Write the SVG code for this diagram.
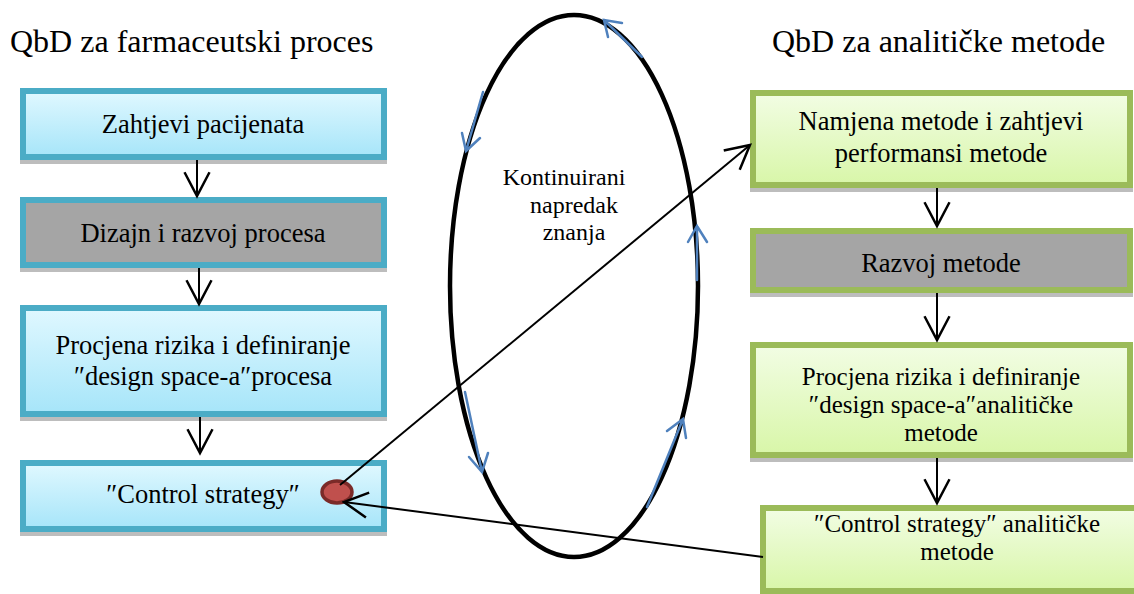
<svg xmlns="http://www.w3.org/2000/svg" width="1134" height="594" viewBox="0 0 1134 594">
<defs>
<linearGradient id="gBlue" x1="0" y1="0" x2="0" y2="1">
<stop offset="0" stop-color="#E0F8FF"/>
<stop offset="1" stop-color="#A6E5F9"/>
</linearGradient>
<linearGradient id="gGreen" x1="0" y1="0" x2="0" y2="1">
<stop offset="0" stop-color="#F2FDE4"/>
<stop offset="1" stop-color="#D8F6A8"/>
</linearGradient>
<marker id="arr" markerUnits="userSpaceOnUse" markerWidth="30" markerHeight="30" viewBox="-22 -12 24 24" refX="0" refY="0" orient="auto">
<path d="M-19,-10 L0,0 L-19,10" fill="none" stroke="#000" stroke-width="2"/>
</marker>
</defs>
<style>
text{font-family:"Liberation Serif","Times New Roman",serif;fill:#000;text-anchor:middle;font-size:26.5px}
text.title{font-size:32px;text-anchor:start}
text.small{font-size:24px}
text.tight{font-size:25px}
.shadow{fill:#BDBDBD}
.bb{stroke:#4BACC6;stroke-width:6;fill:url(#gBlue)}
.bg{stroke:#4BACC6;stroke-width:6;fill:#A5A5A5}
.gb{stroke:#9BBB59;stroke-width:6;fill:url(#gGreen)}
.gg{stroke:#9BBB59;stroke-width:6;fill:#A5A5A5}
.c{stroke:#000;stroke-width:2;fill:none}
.b{stroke:#4F81BD;stroke-width:2.5;fill:none;stroke-linecap:round}
</style>
<rect width="1134" height="594" fill="#FFFFFF"/>
<text class="title" x="10" y="52">QbD za farmaceutski proces</text>
<text class="title" x="772" y="52">QbD za analitičke metode</text>

<g id="cycle">
<ellipse cx="574" cy="286" rx="124" ry="271" fill="none" stroke="#000" stroke-width="4.5"/>
<path class="b" d="M642,57 L604,20 M622,23 L604,20 L608,37"/>
<path class="b" d="M483,92 L466,151 M462,133 L466,151 L480,138"/>
<path class="b" d="M697,280 L697,226 M688,242 L697,226 L707,242"/>
<path class="b" d="M465,392 L482,472 M469,457 L482,472 L488,453"/>
<path class="b" d="M647,507 L683,419 M667,431 L683,419 L686,438"/>
<text class="small" x="564" y="185">Kontinuirani</text>
<text class="small" x="574" y="213">napredak</text>
<text class="small" x="574" y="240">znanja</text>
</g>

<g id="L1">
<rect class="shadow" x="20" y="160" width="367" height="4"/>
<rect class="bb" x="23" y="91" width="361" height="66"/>
<text x="203" y="133">Zahtjevi pacijenata</text>
</g>
<g id="L2">
<rect class="shadow" x="20" y="268" width="367" height="4"/>
<rect class="bg" x="23" y="200" width="361" height="65"/>
<text x="203" y="242">Dizajn i razvoj procesa</text>
</g>
<g id="L3">
<rect class="shadow" x="20" y="417" width="367" height="4"/>
<rect class="bb" x="23" y="308" width="361" height="106"/>
<text x="203" y="354">Procjena rizika i definiranje</text>
<text x="203" y="385">″design space-a″procesa</text>
</g>
<g id="L4">
<rect class="shadow" x="20" y="532" width="367" height="4"/>
<rect class="bb" x="23" y="463" width="361" height="66"/>
<text x="203" y="503">″Control strategy″</text>
<ellipse cx="337" cy="492" rx="15" ry="11" fill="#C0504D" stroke="#7B2A28" stroke-width="3.5"/>
</g>

<g id="R1">
<rect class="shadow" x="750" y="188" width="383" height="4"/>
<rect class="gb" x="753" y="93" width="377" height="92"/>
<text x="941" y="130">Namjena metode i zahtjevi</text>
<text x="941" y="162">performansi metode</text>
</g>
<g id="R2">
<rect class="shadow" x="750" y="293" width="383" height="4"/>
<rect class="gg" x="753" y="231" width="377" height="59"/>
<text x="941" y="272">Razvoj metode</text>
</g>
<g id="R3">
<rect class="shadow" x="750" y="458" width="383" height="4"/>
<rect class="gb" x="753" y="345" width="377" height="110"/>
<text class="tight" x="941" y="385">Procjena rizika i definiranje</text>
<text class="tight" x="941" y="413">″design space-a″analitičke</text>
<text class="tight" x="941" y="441">metode</text>
</g>
<g id="R4">
<rect class="gb" x="763" y="508" width="377" height="83"/>
<text class="tight" x="957" y="532">″Control strategy″ analitičke</text>
<text class="tight" x="957" y="560">metode</text>
</g>

<g id="connectors">
<line class="c" x1="197" y1="160" x2="197" y2="196" marker-end="url(#arr)"/>
<line class="c" x1="199" y1="268" x2="199" y2="304" marker-end="url(#arr)"/>
<line class="c" x1="200" y1="417" x2="200" y2="453" marker-end="url(#arr)"/>
<line class="c" x1="937" y1="188" x2="937" y2="226" marker-end="url(#arr)"/>
<line class="c" x1="937" y1="293" x2="937" y2="340" marker-end="url(#arr)"/>
<line class="c" x1="937" y1="458" x2="937" y2="503" marker-end="url(#arr)"/>
<line class="c" x1="340" y1="485" x2="750" y2="145" marker-end="url(#arr)"/>
<line class="c" x1="763" y1="557" x2="344" y2="502" marker-end="url(#arr)"/>
</g>
</svg>
